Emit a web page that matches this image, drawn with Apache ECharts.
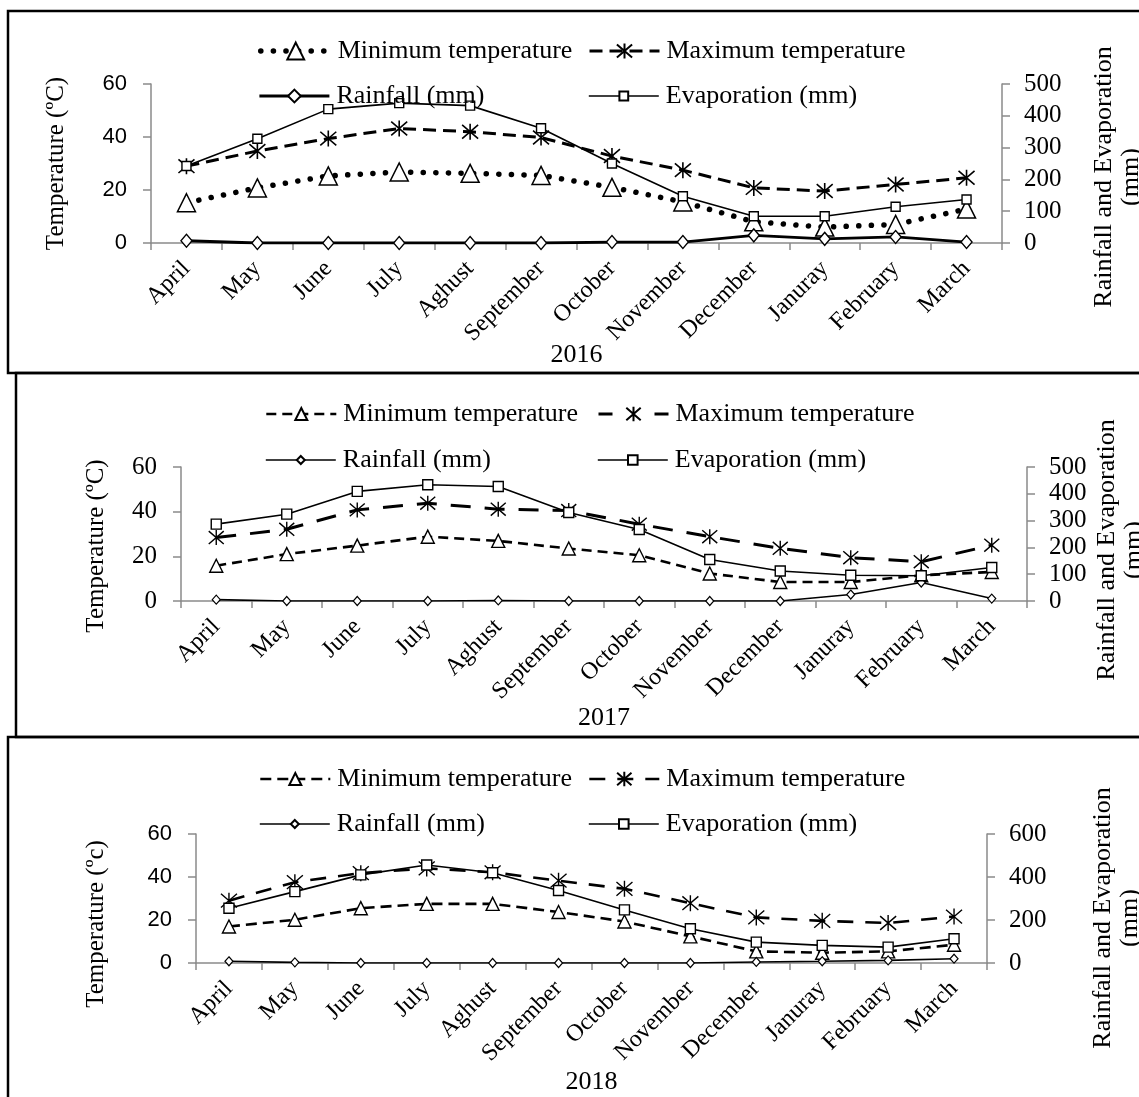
<!DOCTYPE html>
<html>
<head>
<meta charset="utf-8">
<script src="https://cdn.jsdelivr.net/npm/echarts@6/dist/echarts.min.js"></script>
<style>
html, body { margin: 0; padding: 0; background: #fff; }
#chart { width: 1139px; height: 1097px; }
</style>
</head>
<body>
<div id="chart"></div>
<script>
const months = ['April', 'May', 'June', 'July', 'Aghust', 'September', 'October', 'November', 'December', 'Januray', 'February', 'March']

// 2016
const min16 = [15.2, 20.8, 25.3, 26.8, 26.3, 25.5, 21, 15.5, 8, 6, 7, 12.8]
const max16 = [29, 34.7, 39.4, 43.2, 42, 39.8, 32.8, 27.5, 20.8, 19.6, 22.1, 24.6]
const rain16 = [7, 0, 0, 0, 0, 0, 3, 3, 24, 13, 19, 3]
const evap16 = [242, 328, 421, 440, 432, 361, 250, 147, 84, 84, 114, 137]

// 2017
const min17 = [15.8, 21, 24.8, 28.8, 26.9, 23.5, 20.5, 12.3, 8.5, 8.5, 11.5, 13]
const max17 = [28.4, 32.1, 40.8, 43.8, 41.1, 40.5, 34.4, 28.8, 23.6, 19.4, 17.6, 25]
const rain17 = [5, 0, 0, 0, 2, 0, 0, 0, 0, 24, 69, 9]
const evap17 = [287, 324, 409, 434, 427, 330, 267, 155, 112, 96, 94, 125]

// 2018
const min18 = [17, 20.1, 25.5, 27.5, 27.5, 23.7, 19.3, 12.4, 5.4, 4.8, 5.4, 8.5]
const max18 = [29, 37.6, 41.8, 44, 42.2, 38.3, 34.5, 27.8, 21.2, 19.6, 18.6, 21.6]
const rain18 = [8, 3, 0, 0, 0, 0, 0, 0, 5, 8, 12, 20]
const evap18 = [255, 332, 410, 456, 420, 337, 247, 159, 97, 82, 74, 113]

const tempTicks = { min: 0, max: 60, interval: 20 }
const mmTicks = [{ min: 0, max: 500, interval: 100 }, { min: 0, max: 500, interval: 100 }, { min: 0, max: 600, interval: 200 }]

const labels = {
  min: 'Minimum temperature',
  max: 'Maximum temperature',
  rain: 'Rainfall (mm)',
  evap: 'Evaporation (mm)'
}

const SERIF = "'Liberation Serif', 'Times New Roman', serif"
const SANS = "'Liberation Sans', Arial, sans-serif"
const STAR = 'path://M0,0L12,12M12,0L0,12M6,-1L6,13'
const AXIS_GREY = '#8a8a8a'

const panels = [
  {
    year: '2016', min: min16, max: max16, rain: rain16, evap: evap16,
    tempTitle: 'Temperature (ºC)', tempFont: SANS, tempSize: 22,
    grid: { left: 151, top: 84, width: 851, height: 159 },
    leftGap: 82, leftPad: 0, rightGap: 89, rightPad: 27, yearGap: 99,
    legendX: [258, 588], legendY: [38, 83],
    styles: {
      min: { line: { width: 5.5, type: [0.1, 12.5], cap: 'round' }, sym: { type: 'triangle', size: 18, border: 1.5 }, lh: 21 },
      max: { line: { width: 3, type: [13, 7] }, sym: { type: STAR, size: [16, 16], border: 1.6 }, lh: 19 },
      rain: { line: { width: 2.8, type: 'solid' }, sym: { type: 'diamond', size: [11, 13], border: 1.4 }, lh: 16 },
      evap: { line: { width: 1.6, type: 'solid' }, sym: { type: 'rect', size: 9, border: 1.4 }, lh: 11 }
    }
  },
  {
    year: '2017', min: min17, max: max17, rain: rain17, evap: evap17,
    tempTitle: 'Temperature (ºC)', tempFont: SERIF, tempSize: 25,
    grid: { left: 181, top: 467, width: 846, height: 134 },
    leftGap: 72, leftPad: 24, rightGap: 67, rightPad: 32, yearGap: 104,
    legendX: [265, 597], legendY: [401, 447],
    styles: {
      min: { line: { width: 2.6, type: [10, 6] }, sym: { type: 'triangle', size: 13, border: 1.4 }, lh: 15 },
      max: { line: { width: 3, type: [20, 14] }, legendType: [14, 42], sym: { type: STAR, size: [15, 15], border: 1.4 }, lh: 18 },
      rain: { line: { width: 1.6, type: 'solid' }, sym: { type: 'diamond', size: [8, 9], border: 1.2 }, lh: 10 },
      evap: { line: { width: 1.6, type: 'solid' }, sym: { type: 'rect', size: 10, border: 1.4 }, lh: 12 }
    }
  },
  {
    year: '2018', min: min18, max: max18, rain: rain18, evap: evap18,
    tempTitle: 'Temperature (ºc)', tempFont: SANS, tempSize: 22,
    grid: { left: 196, top: 834, width: 791, height: 129 },
    leftGap: 87, leftPad: 51, rightGap: 103, rightPad: 39, yearGap: 106,
    legendX: [259, 588], legendY: [766, 811],
    styles: {
      min: { line: { width: 2.6, type: [11, 6] }, sym: { type: 'triangle', size: 13, border: 1.4 }, lh: 15 },
      max: { line: { width: 2.6, type: [16, 12] }, sym: { type: STAR, size: [16, 16], border: 1.4 }, lh: 18 },
      rain: { line: { width: 1.6, type: 'solid' }, sym: { type: 'diamond', size: [8, 9], border: 1.2 }, lh: 10 },
      evap: { line: { width: 1.6, type: 'solid' }, sym: { type: 'rect', size: 10, border: 1.4 }, lh: 12 }
    }
  }
]

const grids = []
const xAxes = []
const yAxes = []
const series = []
const legends = []

function lineSeries (id, data, xi, yi, st) {
  return {
    id: id,
    name: id,
    type: 'line',
    xAxisIndex: xi,
    yAxisIndex: yi,
    data: data,
    symbol: st.sym.type,
    symbolSize: st.sym.size,
    showAllSymbol: true,
    lineStyle: { color: '#000', width: st.line.width, type: st.line.type, cap: st.line.cap || 'butt' },
    itemStyle: { color: '#fff', borderColor: '#000', borderWidth: st.sym.border },
    emphasis: { disabled: true },
    z: 3
  }
}

panels.forEach((p, i) => {
  grids.push(Object.assign({ outerBoundsMode: 'none', containLabel: false }, p.grid))
  xAxes.push({
    type: 'category',
    gridIndex: i,
    data: months,
    boundaryGap: true,
    name: p.year,
    nameLocation: 'middle',
    nameGap: p.yearGap,
    nameMoveOverlap: false,
    nameTextStyle: { fontFamily: SERIF, fontSize: 26, color: '#000' },
    axisLine: { lineStyle: { color: AXIS_GREY, width: 1.5 } },
    axisTick: { show: true, length: 7, lineStyle: { color: AXIS_GREY, width: 1.5 } },
    axisLabel: { interval: 0, rotate: 45, margin: 22, hideOverlap: false, fontFamily: SERIF, fontSize: 24, color: '#000' },
    splitLine: { show: false }
  })
  yAxes.push({
    type: 'value',
    gridIndex: i,
    position: 'left',
    min: tempTicks.min,
    max: tempTicks.max,
    interval: tempTicks.interval,
    name: p.tempTitle,
    nameLocation: 'middle',
    nameRotate: 90,
    nameGap: p.leftGap,
    nameMoveOverlap: false,
    nameTextStyle: { fontFamily: SERIF, fontSize: 25, color: '#000', padding: [0, p.leftPad, 0, 0] },
    axisLine: { show: true, lineStyle: { color: AXIS_GREY, width: 1.5 } },
    axisTick: { show: true, length: 8, lineStyle: { color: AXIS_GREY, width: 1.5 } },
    axisLabel: { margin: 24, fontFamily: p.tempFont, fontSize: p.tempSize, color: '#000' },
    splitLine: { show: false }
  })
  yAxes.push({
    type: 'value',
    gridIndex: i,
    position: 'right',
    min: mmTicks[i].min,
    max: mmTicks[i].max,
    interval: mmTicks[i].interval,
    name: 'Rainfall and Evaporation\n(mm)',
    nameLocation: 'middle',
    nameRotate: 90,
    nameGap: p.rightGap,
    nameMoveOverlap: false,
    nameTextStyle: { fontFamily: SERIF, fontSize: 26, lineHeight: 27, color: '#000', padding: [0, p.rightPad, 0, 0] },
    axisLine: { show: true, lineStyle: { color: AXIS_GREY, width: 1.5 } },
    axisTick: { show: true, length: 8, lineStyle: { color: AXIS_GREY, width: 1.5 } },
    axisLabel: { margin: 22, fontFamily: SERIF, fontSize: 25, color: '#000' },
    splitLine: { show: false }
  })

  const keys = ['min', 'max', 'rain', 'evap']
  const yIdx = { min: 2 * i, max: 2 * i, rain: 2 * i + 1, evap: 2 * i + 1 }
  keys.forEach((k, j) => {
    const id = k + '-' + p.year
    const st = p.styles[k]
    series.push(lineSeries(id, p[k], i, yIdx[k], st))
    legends.push({
      data: [id],
      left: p.legendX[j % 2],
      top: p.legendY[Math.floor(j / 2)],
      padding: 0,
      itemWidth: 70,
      itemHeight: st.lh,
      selectedMode: false,
      lineStyle: { width: st.line.width, type: st.legendType || st.line.type, cap: st.line.cap || 'butt', color: '#000' },
      formatter: () => labels[k],
      textStyle: { fontFamily: SERIF, fontSize: 26, color: '#000', padding: [0, 0, 0, 2] }
    })
  })
})

const frame = { type: 'rect', silent: true, z: 0, style: { fill: 'none', stroke: '#000', lineWidth: 2.5 } }
const graphics = [
  Object.assign({}, frame, { shape: { x: 8, y: 11, width: 1160, height: 362 } }),
  Object.assign({}, frame, { shape: { x: 16, y: 373, width: 1160, height: 364 } }),
  Object.assign({}, frame, { shape: { x: 8, y: 737, width: 1160, height: 420 } })
]

const chart = echarts.init(document.getElementById('chart'), null, { renderer: 'canvas' })
chart.setOption({
  backgroundColor: '#fff',
  animation: false,
  grid: grids,
  xAxis: xAxes,
  yAxis: yAxes,
  legend: legends,
  series: series,
  graphic: graphics
})
</script>
</body>
</html>
